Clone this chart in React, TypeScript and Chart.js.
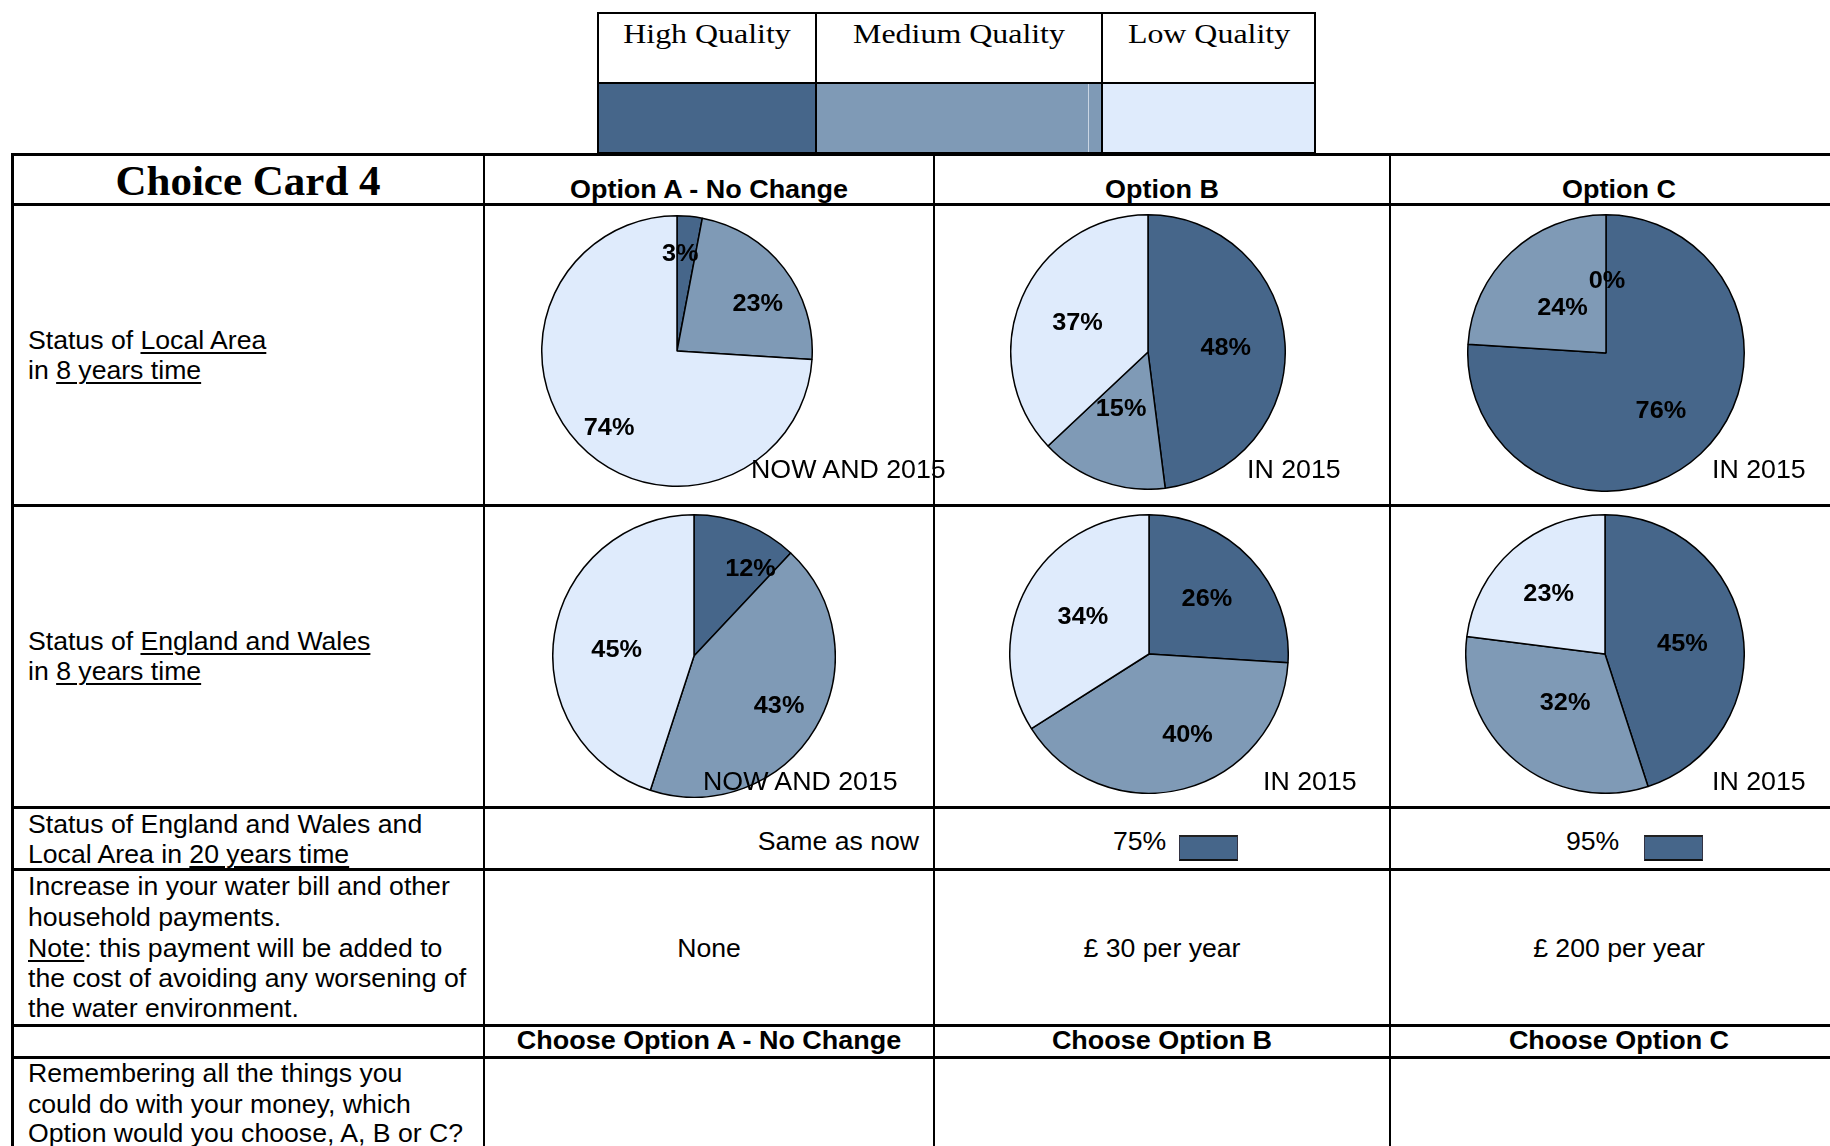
import React, { useEffect, useRef } from "react";
import { Chart, registerables } from "chart.js";

Chart.register(...registerables);

// ---------- data ----------
const QUALITY_LEVELS = ["High Quality", "Medium Quality", "Low Quality"];
const OPTION_HEADERS = ["Option A - No Change", "Option B", "Option C"];
const CHOOSE_LABELS = ["Choose Option A - No Change", "Choose Option B", "Choose Option C"];
const PERIOD_LABELS = ["NOW AND 2015", "IN 2015", "IN 2015"];

// values per slice in order [High, Medium, Low]
const LOCAL_AREA_A = [3, 23, 74];
const LOCAL_AREA_B = [48, 15, 37];
const LOCAL_AREA_C = [76, 24, 0];
const ENG_WALES_A = [12, 43, 45];
const ENG_WALES_B = [26, 40, 34];
const ENG_WALES_C = [45, 32, 23];

const TWENTY_YEAR_VALUES = ["Same as now", "75%", "95%"];
const BILL_VALUES = ["None", "£ 30 per year", "£ 200 per year"];

// ---------- styles ----------
const QUALITY_COLORS = ["#46668A", "#7F9AB6", "#DFEBFC"];
const SANS = "'Liberation Sans', Arial, sans-serif";
const SERIF = "'Liberation Serif', 'Times New Roman', serif";

// radial placement of slice labels (fraction of radius) and small pixel nudges, per slice
const LABEL_FRACS = {
  a1: [0.72, 0.69, 0.75],
  b1: [0.56, 0.45, 0.56],
  c1: [0.58, 0.46, 0.53],
  a2: [0.74, 0.7, 0.54],
  b2: [0.58, 0.65, 0.55],
  c2: [0.57, 0.45, 0.59],
};
const LABEL_NUDGES = {
  a1: [[-6, 1], [7, 11], [6, 8]],
  b1: [[1, 1], [-6, 0], [0, 2]],
  c1: [[0, 0], [0, 2], [1, 2]],
  a2: [[18, 11], [0, 0], [-2, 7]],
  b2: [[-1, 1], [16, -6], [1, 1]],
  c2: [[-1, 3], [0, 1], [-2, 2]],
};

function makeLabelPlugin(fracs: number[], nudges: number[][]) {
  return {
    id: "sliceLabels",
    afterDatasetsDraw(chart: any) {
      const ctx = chart.ctx as CanvasRenderingContext2D;
      const meta = chart.getDatasetMeta(0);
      const data = chart.data.datasets[0].data as number[];
      meta.data.forEach((el: any, i: number) => {
        const p = el.getProps(["x", "y", "startAngle", "endAngle", "outerRadius"], true);
        const mid = (p.startAngle + p.endAngle) / 2;
        const rr = p.outerRadius * fracs[i];
        const px = p.x + Math.cos(mid) * rr + nudges[i][0];
        const py = p.y + Math.sin(mid) * rr + nudges[i][1];
        ctx.save();
        ctx.font = `bold 23px ${SANS}`;
        ctx.fillStyle = "#000";
        ctx.textAlign = "center";
        ctx.textBaseline = "middle";
        ctx.translate(px, py);
        ctx.scale(1.1, 1);
        ctx.fillText(`${data[i]}%`, 0, 0);
        ctx.restore();
      });
    },
  };
}

function Pie({
  values,
  cx,
  cy,
  r,
  fracs,
  nudges,
}: {
  values: number[];
  cx: number;
  cy: number;
  r: number;
  fracs: number[];
  nudges: number[][];
}) {
  const ref = useRef<HTMLCanvasElement>(null);
  const size = 2 * r + 2;
  useEffect(() => {
    const chart = new Chart(ref.current!, {
      type: "pie",
      data: {
        labels: QUALITY_LEVELS,
        datasets: [
          {
            data: values,
            backgroundColor: QUALITY_COLORS,
            borderColor: "#000",
            borderWidth: 1.5,
          },
        ],
      },
      options: {
        responsive: false,
        animation: false,
        devicePixelRatio: 1,
        events: [],
        layout: { padding: 0 },
        plugins: { legend: { display: false }, tooltip: { enabled: false } },
      },
      plugins: [makeLabelPlugin(fracs, nudges)],
    } as any);
    return () => chart.destroy();
  }, []);
  return (
    <canvas
      ref={ref}
      width={size}
      height={size}
      style={{ position: "absolute", left: cx - size / 2, top: cy - size / 2, width: size, height: size }}
    />
  );
}

function T({
  x,
  y,
  size = 26,
  bold = false,
  serif = false,
  align = "left",
  sx,
  children,
}: {
  x: number;
  y: number;
  size?: number;
  bold?: boolean;
  serif?: boolean;
  align?: "left" | "center" | "right";
  sx?: number;
  children: React.ReactNode;
}) {
  const asc = serif ? 0.8375 : 0.8465;
  const scale = sx ?? (serif ? 1 : bold ? 1.037 : 1.024);
  const style: React.CSSProperties = {
    position: "absolute",
    top: y - asc * size,
    fontSize: size,
    lineHeight: `${size}px`,
    fontWeight: bold ? 700 : 400,
    fontFamily: serif ? SERIF : SANS,
    whiteSpace: "nowrap",
    color: "#000",
    transform: `scaleX(${scale})`,
    transformOrigin: align === "left" ? "left center" : align === "right" ? "right center" : "center center",
  };
  if (align === "left") style.left = x;
  else if (align === "center") {
    style.left = x - 600;
    style.width = 1200;
    style.textAlign = "center";
  } else {
    style.left = x - 1200;
    style.width = 1200;
    style.textAlign = "right";
  }
  return <div style={style}>{children}</div>;
}

const U = ({ children }: { children: React.ReactNode }) => (
  <span style={{ textDecoration: "underline", textDecorationThickness: "2px", textUnderlineOffset: "3px" }}>{children}</span>
);

function HL({ y, x1, x2, t = 3, c = "#000" }: { y: number; x1: number; x2: number; t?: number; c?: string }) {
  return <div style={{ position: "absolute", left: x1, top: y - t / 2, width: x2 - x1, height: t, background: c }} />;
}
function VL({ x, y1, y2, t = 3, c = "#000" }: { x: number; y1: number; y2: number; t?: number; c?: string }) {
  return <div style={{ position: "absolute", left: x - t / 2, top: y1, width: t, height: y2 - y1, background: c }} />;
}
function Box({ x, y, w, h, c }: { x: number; y: number; w: number; h: number; c: string }) {
  return <div style={{ position: "absolute", left: x, top: y, width: w, height: h, background: c }} />;
}

function SwatchIcon({ x }: { x: number }) {
  return (
    <div
      style={{
        position: "absolute",
        left: x,
        top: 835,
        width: 57,
        height: 22,
        background: QUALITY_COLORS[0],
        borderTop: "2px solid #222",
        borderBottom: "2px solid #111",
        borderLeft: "1px solid #334",
        borderRight: "1px solid #334",
      }}
    />
  );
}

export default function App() {
  // table geometry
  const colX = [12, 484, 934, 1390, 1848];
  const colCenters = [709, 1162, 1619];
  const rowY = [154.5, 204.5, 505, 807.5, 869.5, 1025.5, 1057];
  const legX = [598, 816, 1102, 1315];
  const legY = [13, 83, 153];

  return (
    <div
      style={{
        position: "absolute",
        left: 0,
        top: 0,
        width: 1830,
        height: 1146,
        overflow: "hidden",
        background: "#fff",
      }}
    >
      {/* Legend */}
      <Box x={legX[0]} y={legY[1]} w={legX[1] - legX[0]} h={legY[2] - legY[1]} c={QUALITY_COLORS[0]} />
      <Box x={legX[1]} y={legY[1]} w={legX[2] - legX[1]} h={legY[2] - legY[1]} c={QUALITY_COLORS[1]} />
      <Box x={legX[2]} y={legY[1]} w={legX[3] - legX[2]} h={legY[2] - legY[1]} c={QUALITY_COLORS[2]} />
      <VL x={1088} y1={legY[1]} y2={legY[2]} t={1} c="#C9D5E3" />
      <HL y={legY[0]} x1={legX[0] - 1} x2={legX[3] + 1} t={2.5} />
      <HL y={legY[1]} x1={legX[0] - 1} x2={legX[3] + 1} t={2.5} />
      <HL y={legY[2]} x1={legX[0] - 1} x2={legX[3] + 1} t={3} />
      {legX.map((x, i) => (
        <VL key={"lv" + i} x={x} y1={legY[0]} y2={legY[2]} t={2.5} />
      ))}
      {QUALITY_LEVELS.map((q, i) => (
        <T key={"lq" + i} x={(legX[i] + legX[i + 1]) / 2} y={43} size={28} serif sx={1.14} align="center">
          {q}
        </T>
      ))}

      {/* Table lines */}
      {rowY.map((y, i) => (
        <HL key={"h" + i} y={y} x1={colX[0] - 1.5} x2={1830} t={3} />
      ))}
      {colX.slice(0, 4).map((x, i) => (
        <VL key={"v" + i} x={x + (i === 0 ? 0.5 : 0)} y1={rowY[0] - 1.5} y2={1146} t={i === 0 ? 3 : 2.5} />
      ))}

      {/* Header row */}
      <T x={248} y={195} size={43} bold serif align="center">
        Choice Card 4
      </T>
      {OPTION_HEADERS.map((h, i) => (
        <T key={"oh" + i} x={colCenters[i]} y={198} size={26} bold align="center">
          {h}
        </T>
      ))}

      {/* Row labels */}
      <T x={28} y={349}>
        Status of <U>Local Area</U>
      </T>
      <T x={28} y={379}>
        in <U>8 years time</U>
      </T>
      <T x={28} y={650}>
        Status of <U>England and Wales</U>
      </T>
      <T x={28} y={680}>
        in <U>8 years time</U>
      </T>
      <T x={28} y={833}>
        Status of England and Wales and
      </T>
      <T x={28} y={863}>
        Local Area in <U>20 years time</U>
      </T>
      <T x={28} y={895}>
        Increase in your water bill and other
      </T>
      <T x={28} y={926}>
        household payments.
      </T>
      <T x={28} y={957}>
        <U>Note</U>: this payment will be added to
      </T>
      <T x={28} y={987}>
        the cost of avoiding any worsening of
      </T>
      <T x={28} y={1017}>
        the water environment.
      </T>
      <T x={28} y={1082}>
        Remembering all the things you
      </T>
      <T x={28} y={1113}>
        could do with your money, which
      </T>
      <T x={28} y={1142}>
        Option would you choose, A, B or C?
      </T>

      {/* Pies */}
      <Pie values={LOCAL_AREA_A} cx={677} cy={351} r={135} fracs={LABEL_FRACS.a1} nudges={LABEL_NUDGES.a1} />
      <Pie values={LOCAL_AREA_B} cx={1148} cy={352} r={137} fracs={LABEL_FRACS.b1} nudges={LABEL_NUDGES.b1} />
      <Pie values={LOCAL_AREA_C} cx={1606} cy={353} r={138} fracs={LABEL_FRACS.c1} nudges={LABEL_NUDGES.c1} />
      <Pie values={ENG_WALES_A} cx={694} cy={656} r={141} fracs={LABEL_FRACS.a2} nudges={LABEL_NUDGES.a2} />
      <Pie values={ENG_WALES_B} cx={1149} cy={654} r={139} fracs={LABEL_FRACS.b2} nudges={LABEL_NUDGES.b2} />
      <Pie values={ENG_WALES_C} cx={1605} cy={654} r={139} fracs={LABEL_FRACS.c2} nudges={LABEL_NUDGES.c2} />

      {/* Period labels */}
      <T x={751} y={478} size={25} sx={1.07}>{PERIOD_LABELS[0]}</T>
      <T x={1247} y={478} size={25} sx={1.07}>{PERIOD_LABELS[1]}</T>
      <T x={1712} y={478} size={25} sx={1.07}>{PERIOD_LABELS[2]}</T>
      <T x={703} y={790} size={25} sx={1.07}>{PERIOD_LABELS[0]}</T>
      <T x={1263} y={790} size={25} sx={1.07}>{PERIOD_LABELS[1]}</T>
      <T x={1712} y={790} size={25} sx={1.07}>{PERIOD_LABELS[2]}</T>

      {/* 20 years row */}
      <T x={919} y={850} align="right">
        {TWENTY_YEAR_VALUES[0]}
      </T>
      <T x={1113} y={850}>{TWENTY_YEAR_VALUES[1]}</T>
      <SwatchIcon x={1179} />
      <T x={1566} y={850}>{TWENTY_YEAR_VALUES[2]}</T>
      <SwatchIcon x={1644} />

      {/* Bill row */}
      {BILL_VALUES.map((b, i) => (
        <T key={"b" + i} x={colCenters[i]} y={957} align="center">
          {b}
        </T>
      ))}

      {/* Choose row */}
      {CHOOSE_LABELS.map((c, i) => (
        <T key={"c" + i} x={colCenters[i]} y={1049} bold align="center">
          {c}
        </T>
      ))}
    </div>
  );
}
